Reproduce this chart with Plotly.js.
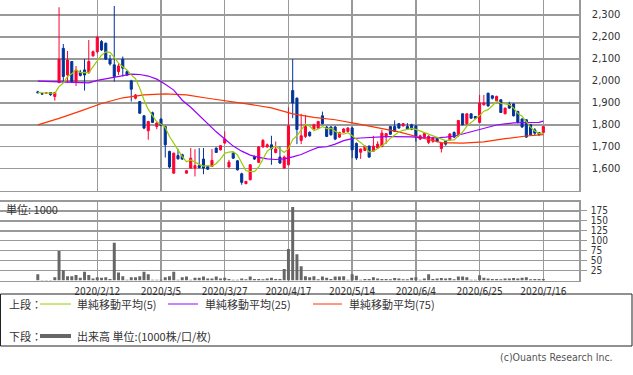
<!DOCTYPE html>
<html>
<head>
<meta charset="utf-8">
<script src="https://cdn.plot.ly/plotly-3.0.1.min.js"></script>
<style>
html,body{margin:0;padding:0;background:#fff;}
#chart{width:633px;height:375px;}
</style>
</head>
<body>
<div id="chart"></div>
<script>
const dates = ['2020/1/22','2020/1/23','2020/1/24','2020/1/27','2020/1/28','2020/1/29','2020/1/30','2020/1/31',
'2020/2/3','2020/2/4','2020/2/5','2020/2/6','2020/2/7','2020/2/10','2020/2/12','2020/2/13','2020/2/14','2020/2/17','2020/2/18','2020/2/19','2020/2/20','2020/2/21','2020/2/25','2020/2/26','2020/2/27','2020/2/28',
'2020/3/2','2020/3/3','2020/3/4','2020/3/5','2020/3/6','2020/3/9','2020/3/10','2020/3/11','2020/3/12','2020/3/13','2020/3/16','2020/3/17','2020/3/18','2020/3/19','2020/3/23','2020/3/24','2020/3/25','2020/3/26','2020/3/27','2020/3/30','2020/3/31',
'2020/4/1','2020/4/2','2020/4/3','2020/4/6','2020/4/7','2020/4/8','2020/4/9','2020/4/10','2020/4/13','2020/4/14','2020/4/15','2020/4/16','2020/4/17','2020/4/20','2020/4/21','2020/4/22','2020/4/23','2020/4/24','2020/4/27','2020/4/28','2020/4/30',
'2020/5/1','2020/5/7','2020/5/8','2020/5/11','2020/5/12','2020/5/13','2020/5/14','2020/5/15','2020/5/18','2020/5/19','2020/5/20','2020/5/21','2020/5/22','2020/5/25','2020/5/26','2020/5/27','2020/5/28','2020/5/29',
'2020/6/1','2020/6/2','2020/6/3','2020/6/4','2020/6/5','2020/6/8','2020/6/9','2020/6/10','2020/6/11','2020/6/12','2020/6/15','2020/6/16','2020/6/17','2020/6/18','2020/6/19','2020/6/22','2020/6/23','2020/6/24','2020/6/25','2020/6/26','2020/6/29','2020/6/30',
'2020/7/1','2020/7/2','2020/7/3','2020/7/6','2020/7/7','2020/7/8','2020/7/9','2020/7/10','2020/7/13','2020/7/14','2020/7/15','2020/7/16'];

const openP = [1950,1942,1945,1947,1929,1992,2148,2027,2088,1997,
2040,2050,2038,2114,2133,2179,2171,2099,2073,2042,
2099,2042,2000,1921,1906,1841,1773,1855,1792,1826,
1792,1679,1580,1660,1664,1580,1603,1603,1614,1644,
1610,1610,1694,1686,1717,1608,1671,1636,1577,1532,
1550,1656,1629,1699,1699,1709,1674,1653,1603,1618,
1956,1921,1729,1747,1766,1781,1785,1841,1790,1790,
1790,1744,1766,1770,1785,1715,1675,1683,1703,1680,
1694,1701,1745,1792,1792,1805,1795,1792,1800,1795,
1735,1745,1720,1725,1738,1692,1725,1732,1765,1755,
1850,1805,1850,1838,1811,1891,1944,1932,1910,1914,
1850,1895,1895,1861,1826,1823,1800,1777,1765,1765];

const highP = [1955,1944,1946,1948,1950,2335,2168,2136,2090,2068,
2050,2099,2186,2138,2205,2186,2175,2118,2341,2080,
2111,2048,2005,1940,1908,1845,1818,1860,1815,1830,
1795,1682,1673,1691,1668,1593,1694,1689,1694,1694,
1615,1690,1697,1708,1770,1640,1675,1640,1582,1545,
1621,1660,1703,1735,1715,1750,1724,1701,1660,1880,
2099,1925,1850,1845,1770,1805,1818,1860,1795,1794,
1795,1768,1785,1790,1790,1720,1692,1706,1706,1750,
1725,1777,1762,1795,1820,1808,1808,1808,1805,1800,
1755,1765,1752,1745,1742,1720,1730,1762,1770,1822,
1852,1852,1852,1840,1936,1936,1946,1935,1933,1916,
1878,1905,1898,1864,1830,1825,1803,1785,1768,1795];

const lowP = [1944,1938,1944,1932,1910,1990,1992,1990,1990,1977,
2020,1956,2032,2110,2125,2136,2095,2070,1997,2027,
2020,2022,1906,1916,1850,1780,1732,1808,1780,1794,
1651,1602,1577,1642,1640,1578,1600,1565,1602,1575,
1595,1608,1672,1683,1714,1605,1645,1592,1527,1530,
1547,1640,1626,1696,1696,1618,1670,1622,1600,1615,
1830,1712,1712,1740,1746,1778,1782,1802,1744,1750,
1730,1740,1762,1766,1649,1640,1645,1680,1650,1676,
1690,1698,1714,1755,1768,1782,1792,1778,1776,1724,
1730,1740,1712,1718,1720,1674,1705,1728,1740,1745,
1798,1800,1828,1828,1808,1888,1882,1915,1905,1854,
1848,1872,1838,1806,1786,1740,1752,1752,1750,1762];

const closeP = [1946,1940,1945,1937,1947,2099,2020,2095,1997,2050,
2025,2027,2088,2133,2198,2141,2099,2077,2020,2068,
2058,2027,1962,1936,1853,1785,1815,1811,1808,1797,
1709,1608,1671,1645,1644,1591,1648,1614,1605,1603,
1598,1638,1674,1705,1735,1630,1648,1595,1538,1542,
1618,1644,1699,1729,1709,1690,1690,1626,1653,1795,
1899,1779,1750,1792,1750,1800,1815,1805,1747,1755,
1735,1765,1781,1785,1686,1649,1690,1703,1653,1703,
1712,1762,1760,1757,1770,1785,1805,1780,1780,1747,
1750,1760,1748,1740,1725,1717,1712,1758,1744,1820,
1800,1850,1830,1830,1899,1899,1886,1921,1929,1856,
1876,1876,1841,1811,1790,1744,1755,1762,1755,1792];

const volume = [16,1.5,1.5,1.5,8,74,26,11,11,14,
7,22,14,5,8,7,8,4,95,20,
11,2,8,8,11,22,16,2,2,2,
8,11,22,2,8,10,2,7,7,10,
5,5,10,5,7,4,2,2,5,3,
10,4,4,3,5,7,4,4,29,79,
185,66,36,11,8,11,3,10,7,4,
10,10,11,2,16,12,2,4,4,8,
5,4,4,3,6,5,3,3,7,8,
2,5,16,4,5,6,5,6,3,10,
10,8,2,2,13,7,5,4,4,3,
5,5,6,5,7,8,3,4,4,4];

const ma5 = [1947,1946,1945,1944,1943,1974,1990,2020,2032,2052,
2037,2039,2037,2065,2094,2117,2132,2130,2107,2081,
2064,2050,2027,2010,1967,1913,1870,1840,1814,1803,
1788,1747,1719,1686,1655,1632,1640,1628,1620,1612,
1614,1612,1624,1644,1670,1676,1678,1663,1629,1591,
1588,1587,1608,1646,1680,1694,1703,1689,1674,1691,
1733,1750,1775,1803,1794,1774,1781,1792,1783,1784,
1771,1761,1757,1764,1750,1733,1718,1703,1676,1680,
1692,1707,1718,1739,1752,1767,1775,1779,1784,1779,
1772,1763,1757,1749,1745,1738,1728,1730,1731,1750,
1767,1794,1809,1826,1842,1862,1869,1887,1907,1898,
1894,1892,1876,1852,1839,1812,1788,1772,1761,1762];

const ma25 = [1999,null,1998,null,1997,null,1995,null,1993,null,
1991,null,1991,null,2002,null,2009,null,2016,null,
2024,null,2031,null,2029,null,2022,null,2008,null,
1985,null,1958,null,1912,null,1880,null,1842,null,
1805,null,1768,null,1735,null,1703,null,1680,null,
1662,null,1652,null,1645,null,1642,null,1645,null,
1654,null,1665,null,1682,null,1697,null,1700,null,
1712,null,1728,null,1737,null,1740,null,1743,null,
1744,null,1746,null,1746,null,1746,null,1745,null,
1742,null,1740,null,1741,null,1744,null,1748,null,
1758,null,1768,null,1781,null,1791,null,1799,null,
1804,null,1809,null,1810,null,1810,null,1811,1817];

const ma75 = [1800,null,null,null,null,1829,null,null,null,null,
1862,null,null,null,null,1897,null,null,null,null,
1923,null,null,null,null,1936,null,null,null,null,
1941,null,null,null,null,1936,null,null,null,null,
1921,null,null,null,null,1908,null,null,null,null,
1893,null,null,null,null,1877,null,null,null,null,
1850,null,null,null,null,1834,null,null,null,null,
1823,null,null,null,null,1805,null,null,null,null,
1787,null,null,null,null,1768,null,null,null,null,
1742,null,null,null,null,1719,null,null,null,null,
1717,null,null,null,null,1722,null,null,null,null,
1737,null,null,null,null,1749,null,null,null,1755];

const xTicks = ['2020/2/12','2020/3/5','2020/3/27','2020/4/17','2020/5/14','2020/6/4','2020/6/25','2020/7/16'];
const priceTicks = [1600,1700,1800,1900,2000,2100,2200,2300];
const volTicks = [25,50,75,100,125,150,175];

const UP = '#ff0033', DOWN = '#003399';
const C5 = '#99cc00', C25 = '#9900ff', C75 = '#ff3300', CVOL = '#666666';
const GRID = '#999999';
const W = 633, H = 375;
const px = v => v / W;
const py = v => 1 - v / H;

const traces = [
  {type:'candlestick', x:dates, open:openP, high:highP, low:lowP, close:closeP,
   xaxis:'x', yaxis:'y', whiskerwidth:0, hoverinfo:'skip',
   increasing:{line:{color:UP,width:1}, fillcolor:UP},
   decreasing:{line:{color:DOWN,width:1}, fillcolor:DOWN}},
  {type:'scatter', mode:'lines', x:dates, y:ma75, connectgaps:true, xaxis:'x', yaxis:'y',
   line:{color:C75,width:1.2}, hoverinfo:'skip'},
  {type:'scatter', mode:'lines', x:dates, y:ma25, connectgaps:true, xaxis:'x', yaxis:'y',
   line:{color:C25,width:1.2}, hoverinfo:'skip'},
  {type:'scatter', mode:'lines', x:dates, y:ma5, xaxis:'x', yaxis:'y',
   line:{color:C5,width:1.2}, hoverinfo:'skip'},
  {type:'bar', x:dates, y:volume, xaxis:'x2', yaxis:'y2', marker:{color:CVOL}, hoverinfo:'skip'}
];

const xr = [-8.9, 127.47];
const axisCommon = {showline:true, mirror:true, linecolor:'#999', linewidth:1.5,
  showgrid:true, gridcolor:GRID, gridwidth:1.4, zeroline:false, fixedrange:true};

const tfont = {family:'DejaVu Sans Condensed, DejaVu Sans, sans-serif', size:10, color:'#333'};
const jfont = {family:'Noto Sans CJK JP, sans-serif', size:11, color:'#333'};

const layout = {
  width:W, height:H, margin:{l:0,r:0,t:0,b:0},
  paper_bgcolor:'#fff', plot_bgcolor:'#fff', showlegend:false,
  bargap:0.3, boxgap:0.3,
  xaxis:Object.assign({}, axisCommon, {type:'category', domain:[0,px(579.3)], range:xr, anchor:'y',
    tickmode:'array', tickvals:xTicks, showticklabels:false, ticks:'',
    rangeslider:{visible:false}}),
  yaxis:Object.assign({}, axisCommon, {domain:[py(190.7),1], range:[1500,2368.2], side:'right', anchor:'x',
    tickmode:'array', tickvals:priceTicks, tickformat:',d', ticks:'', ticklabelstandoff:9,
    tickfont:{family:'DejaVu Sans, sans-serif', size:10, color:'#333'}}),
  xaxis2:Object.assign({}, axisCommon, {type:'category', domain:[0,px(579.3)], range:xr, anchor:'y2',
    tickmode:'array', tickvals:xTicks, ticks:'', tickfont:tfont, ticklabelstandoff:1}),
  yaxis2:Object.assign({}, axisCommon, {domain:[py(280.5),py(201.7)], range:[0,198.4], side:'right', anchor:'x2',
    tickmode:'array', tickvals:volTicks, ticks:'outside', ticklen:6, tickcolor:'#999', tickwidth:1,
    ticklabelstandoff:2, tickfont:tfont}),
  shapes:[
    {type:'rect', xref:'paper', yref:'paper', x0:px(0.5), x1:px(632), y0:py(346), y1:py(294), line:{color:'#222',width:1}},
    {type:'line', xref:'paper', yref:'paper', x0:px(40), x1:px(71), y0:py(304), y1:py(304), line:{color:C5,width:1}},
    {type:'line', xref:'paper', yref:'paper', x0:px(168), x1:px(198), y0:py(304), y1:py(304), line:{color:C25,width:1}},
    {type:'line', xref:'paper', yref:'paper', x0:px(313), x1:px(342), y0:py(304), y1:py(304), line:{color:C75,width:1}},
    {type:'line', xref:'paper', yref:'paper', x0:px(40), x1:px(71), y0:py(336), y1:py(336), line:{color:CVOL,width:4}}
  ],
  annotations:[
    {text:'単位: 1000', xref:'paper', yref:'paper', x:px(4), y:py(209), xanchor:'left', yanchor:'middle', showarrow:false, font:jfont},
    {text:'上段：', xref:'paper', yref:'paper', x:px(7), y:py(304), xanchor:'left', yanchor:'middle', showarrow:false, font:jfont},
    {text:'単純移動平均(5)', xref:'paper', yref:'paper', x:px(75), y:py(304), xanchor:'left', yanchor:'middle', showarrow:false, font:jfont},
    {text:'単純移動平均(25)', xref:'paper', yref:'paper', x:px(203), y:py(304), xanchor:'left', yanchor:'middle', showarrow:false, font:jfont},
    {text:'単純移動平均(75)', xref:'paper', yref:'paper', x:px(347), y:py(304), xanchor:'left', yanchor:'middle', showarrow:false, font:jfont},
    {text:'下段：', xref:'paper', yref:'paper', x:px(7), y:py(336), xanchor:'left', yanchor:'middle', showarrow:false, font:jfont},
    {text:'出来高 単位:(1000株/口/枚)', xref:'paper', yref:'paper', x:px(75), y:py(336), xanchor:'left', yanchor:'middle', showarrow:false, font:jfont},
    {text:'(c)Ouants Research Inc.', xref:'paper', yref:'paper', x:px(615), y:py(357), xanchor:'right', yanchor:'middle', showarrow:false,
     font:{family:'DejaVu Sans Condensed, DejaVu Sans, sans-serif', size:10.5, color:'#555'}}
  ]
};

Plotly.newPlot('chart', traces, layout, {displayModeBar:false, staticPlot:true});
</script>
</body>
</html>
